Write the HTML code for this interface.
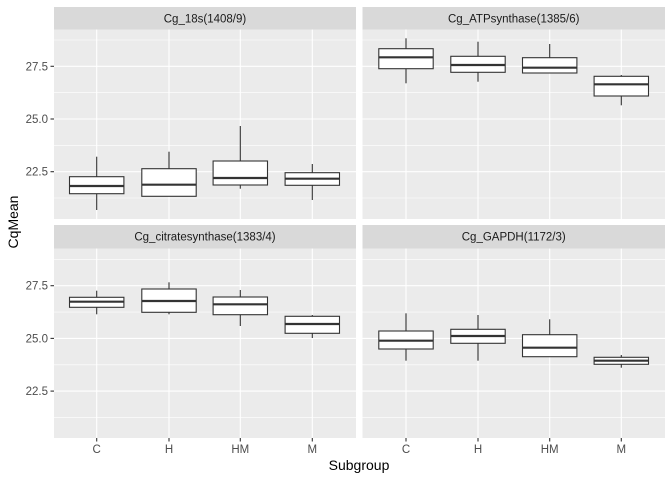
<!DOCTYPE html>
<html><head><meta charset="utf-8"><style>
html,body{margin:0;padding:0;background:#fff}
svg{display:block;font-family:"Liberation Sans",Arial,sans-serif}
</style></head><body>
<svg id="s" width="672" height="480" xmlns="http://www.w3.org/2000/svg">
<rect width="672" height="480" fill="#fff"/>
<g id="g"></g>
<text x="18" y="222" transform="rotate(-90 18 222)" text-anchor="middle" font-size="14" fill="#000">CqMean</text>
<text x="359" y="470" text-anchor="middle" font-size="14" fill="#000">Subgroup</text>
</svg>
<script>
const ns="http://www.w3.org/2000/svg";
let h="";
const panels=[
 {x0:54,x1:356,sy:7,py0:29.5,py1:219,off:0,title:"Cg_18s(1408/9)",xs:[96.7,169,240.3,312.3],left:true,bottom:false,
  b:[[156.7,176.7,186,193.7,210],[151.7,168.7,184.7,196.3,196.3],[126,161,178,185,188.7],[164,172.7,178.7,185.3,200]]},
 {x0:362.5,x1:665,sy:7,py0:29.5,py1:219,off:0,title:"Cg_ATPsynthase(1385/6)",xs:[406,478,549.7,621.3],left:false,bottom:false,
  b:[[38.3,48.7,57.3,68.7,83.3],[41.7,56.3,65,72.3,81.7],[44,57.7,67.7,73,73],[75,76.3,84.3,96,105.3]]},
 {x0:54,x1:356,sy:225,py0:248.5,py1:438,off:219.4,title:"Cg_citratesynthase(1383/4)",xs:[96.7,169,240.3,312.3],left:true,bottom:true,
  b:[[290.7,297.3,301.7,307.3,314.3],[282.3,289,301,312.3,314.3],[290,297,304.3,314.7,326],[315,316.3,324,333.3,338]]},
 {x0:362.5,x1:665,sy:225,py0:248.5,py1:438,off:219.4,title:"Cg_GAPDH(1172/3)",xs:[406,478,549.7,621.3],left:false,bottom:true,
  b:[[313.3,331,340.7,349,360.7],[315,329.3,336,343.3,360.7],[319.3,334.7,347.7,356.7,356.7],[355,357.3,360.7,364.3,367.7]]}
];
const major=[66.3,119,171.7],minor=[40,92.7,145.4,198],labs=["27.5","25.0","22.5"];
for(const p of panels){
 const w=p.x1-p.x0;
 h+=`<rect x="${p.sy? p.x0:p.x0}" y="${p.sy}" width="${w}" height="${p.py0-p.sy}" fill="#d9d9d9"/>`;
 h+=`<text x="${(p.x0+p.x1)/2}" y="${p.sy+15.5}" text-anchor="middle" font-size="11.5" fill="#1a1a1a">${p.title}</text>`;
 h+=`<rect x="${p.x0}" y="${p.py0}" width="${w}" height="${p.py1-p.py0}" fill="#ebebeb"/>`;
 for(const m of minor)h+=`<line x1="${p.x0}" x2="${p.x1}" y1="${m+p.off}" y2="${m+p.off}" stroke="#fff" stroke-width="0.6"/>`;
 for(const m of major)h+=`<line x1="${p.x0}" x2="${p.x1}" y1="${m+p.off}" y2="${m+p.off}" stroke="#fff" stroke-width="1.1"/>`;
 for(const x of p.xs)h+=`<line x1="${x}" x2="${x}" y1="${p.py0}" y2="${p.py1}" stroke="#fff" stroke-width="1.1"/>`;
 if(p.left){major.forEach((m,i)=>{h+=`<line x1="50.5" x2="54" y1="${m+p.off}" y2="${m+p.off}" stroke="#333" stroke-width="1.1"/>`;
  h+=`<text x="48" y="${m+p.off+4}" text-anchor="end" font-size="11.5" fill="#4d4d4d">${labs[i]}</text>`;});}
 if(p.bottom){["C","H","HM","M"].forEach((l,i)=>{h+=`<line x1="${p.xs[i]}" x2="${p.xs[i]}" y1="438" y2="441.5" stroke="#333" stroke-width="1.1"/>`;
  h+=`<text x="${p.xs[i]}" y="453" text-anchor="middle" font-size="11.5" fill="#4d4d4d">${l}</text>`;});}
 p.b.forEach((b,i)=>{const x=p.xs[i],bw=27.2;
  h+=`<line x1="${x}" x2="${x}" y1="${b[0]}" y2="${b[1]}" stroke="#333" stroke-width="1.1"/>`;
  h+=`<line x1="${x}" x2="${x}" y1="${b[3]}" y2="${b[4]}" stroke="#333" stroke-width="1.1"/>`;
  h+=`<rect x="${x-bw}" y="${b[1]}" width="${2*bw}" height="${b[3]-b[1]}" fill="#fff" stroke="#333" stroke-width="1.1"/>`;
  h+=`<line x1="${x-bw}" x2="${x+bw}" y1="${b[2]}" y2="${b[2]}" stroke="#333" stroke-width="2.2"/>`;});
}
document.getElementById("g").innerHTML=h;
</script>
</body></html>
